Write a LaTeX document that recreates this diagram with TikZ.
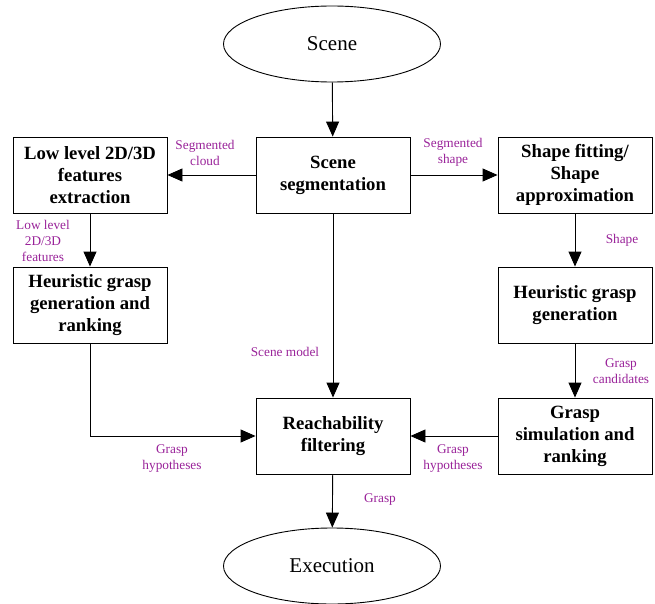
\documentclass[tikz,border=0pt]{standalone}
\usepackage{fontspec}
\setmainfont{Liberation Serif}
\usetikzlibrary{arrows.meta,shapes.geometric}
\definecolor{lbl}{RGB}{153,34,153}
\begin{document}
\begin{tikzpicture}[x=1pt,y=-1pt,
  box/.style={draw,line width=0.9pt,minimum width=154pt,minimum height=76pt,inner sep=0pt,align=center,font=\fontsize{18.7}{22}\selectfont\bfseries},
  oval/.style={draw,line width=0.9pt,ellipse,minimum width=217pt,minimum height=76pt,inner sep=0pt,font=\fontsize{21}{24}\selectfont},
  lab/.style={text=lbl,align=center,inner sep=0pt,font=\fontsize{13.3}{16}\selectfont},
  arr/.style={line width=0.9pt,-{Triangle[length=15pt,width=13pt]}}]
\useasboundingbox (0,0) rectangle (655,604);
\node[oval] (scene) at (332,44) {Scene};
\node[oval] (exec) at (332,566) {Execution};
\node[box] (seg) at (333,175) {Scene\\segmentation};
\node[box] (low) at (90,175) {Low level 2D/3D\\features\\extraction};
\node[box] (fit) at (575,175) {Shape fitting/\\Shape\\approximation};
\node[box] (hl) at (90,305) {Heuristic grasp\\generation and\\ranking};
\node[box] (hr) at (575,305) {Heuristic grasp\\generation};
\node[box] (reach) at (333,436) {Reachability\\filtering};
\node[box] (sim) at (575,436) {Grasp\\simulation and\\ranking};
\coordinate (corner) at (hl.south |- reach.west);
\draw[arr] (scene) -- (seg);
\draw[arr] (seg) -- (low);
\draw[arr] (seg) -- (fit);
\draw[arr] (low) -- (hl);
\draw[arr] (fit) -- (hr);
\draw[arr] (hr) -- (sim);
\draw[arr] (hl.south) -- (corner) -- (reach.west);
\draw[arr] (sim) -- (reach);
\draw[arr] (seg) -- (reach);
\draw[arr] (reach) -- (exec);
\node[lab] (l1) at (205,153) {Segmented\\cloud};
\node[lab] (l2) at (453,152) {Segmented\\shape};
\node[lab] (l3) at (43,241) {Low level\\2D/3D\\features};
\node[lab] (l4) at (622,240) {Shape};
\node[lab] (l5) at (621,371) {Grasp\\candidates};
\node[lab] (l6) at (172,459) {Grasp\\hypotheses};
\node[lab] (l7) at (453,459) {Grasp\\hypotheses};
\node[lab] (l8) at (285,352) {Scene model};
\node[lab] (l9) at (380,500) {Grasp};
\end{tikzpicture}
\end{document}
